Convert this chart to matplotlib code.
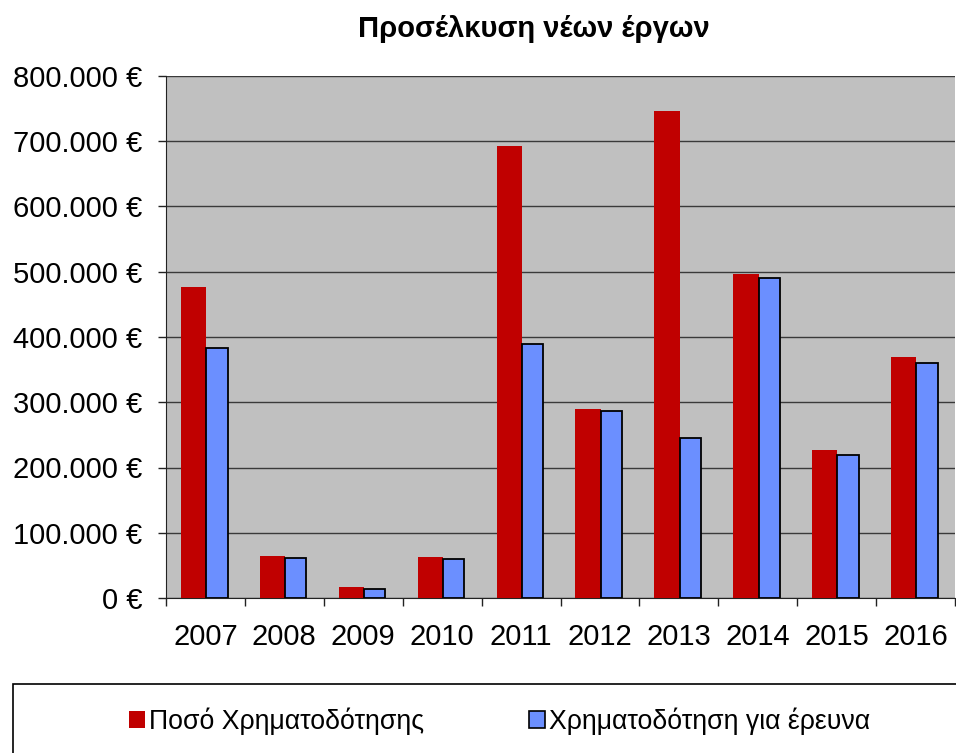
import matplotlib
matplotlib.use("Agg")
import matplotlib.pyplot as plt
from matplotlib.patches import Rectangle, Patch
from matplotlib.ticker import FuncFormatter, MultipleLocator, FixedLocator
import numpy as np

plt.rcParams['font.family'] = ['Liberation Sans', 'DejaVu Sans']

years = ['2007', '2008', '2009', '2010', '2011', '2012', '2013', '2014', '2015', '2016']
funding = [476000, 64000, 16500, 63000, 692000, 289000, 746000, 497000, 227000, 369000]
research = [383000, 61500, 13700, 60000, 389000, 286000, 245000, 490000, 219000, 360000]

title = 'Προσέλκυση νέων έργων'
label_funding = 'Ποσό Χρηματοδότησης'
label_research = 'Χρηματοδότηση για έρευνα'

red = '#C00000'
blue = '#6B8FFF'

fig = plt.figure(figsize=(9.56, 7.53), dpi=100)
ax = fig.add_axes([166 / 956, 1 - 598 / 753, 789 / 956, (598 - 76) / 753])
ax.set_facecolor('#C0C0C0')

x = np.arange(len(years))
ax.bar(x - 0.31, funding, width=0.32, align='edge', color=red, edgecolor='none', zorder=3)
ax.bar(x + 0.01, research, width=0.27, align='edge', color=blue, edgecolor='black',
       linewidth=1.3, zorder=4)

ax.set_xlim(-0.5, len(years) - 0.5)
ax.set_ylim(0, 800000)

# y axis: gridlines + euro labels
ax.yaxis.set_major_locator(MultipleLocator(100000))
ax.yaxis.set_major_formatter(FuncFormatter(lambda v, p: f"{int(v):,}".replace(",", ".") + " €"))
ax.yaxis.grid(True, color='#3a3a3a', linewidth=1.0, zorder=1)
ax.set_axisbelow(True)
ax.get_ygridlines()[-1].set_visible(False)

# x axis: labels at centres, ticks at boundaries
ax.xaxis.set_major_locator(FixedLocator(x))
ax.set_xticklabels(years)
ax.xaxis.set_minor_locator(FixedLocator(np.arange(len(years) + 1) - 0.5))
ax.tick_params(axis='x', which='major', length=0, pad=18, labelsize=21)
ax.tick_params(axis='x', which='minor', length=6, width=1, color='#222222', direction='out')
ax.tick_params(axis='y', length=6, width=1, color='#222222', pad=11, labelsize=21)

for s in ['top', 'right']:
    ax.spines[s].set_visible(False)
ax.spines['left'].set_color('#222222')
ax.spines['bottom'].set_color('#222222')

fig.text(0.558, 0.962, title, ha='center', va='center', fontsize=21, fontweight='bold')

# legend box
fig.patches.append(Rectangle((13 / 956, -0.1), 1.0, 1 - 684 / 753 + 0.1,
                             transform=fig.transFigure, fill=False,
                             edgecolor='black', linewidth=1.2))
handles = [Patch(facecolor=red, edgecolor='none'),
           Patch(facecolor=blue, edgecolor='black', linewidth=1.2)]
fig.legend(handles, [label_funding, label_research], loc='center left',
           bbox_to_anchor=(129 / 956, 1 - 721 / 753), ncol=2, frameon=False,
           fontsize=19.2, handlelength=0.6, handleheight=0.6, handletextpad=0.15,
           columnspacing=3.95, borderaxespad=0, borderpad=0)

fig.savefig('out.png', dpi=100)
